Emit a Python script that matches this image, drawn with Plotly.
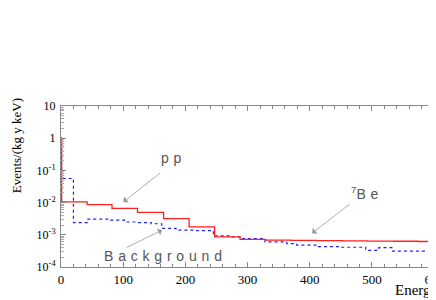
import plotly.graph_objects as go

# ---- data ----
red_edges = [0, 1, 42, 82, 123, 165, 206, 247, 288, 329, 370, 411, 452, 493, 534, 575, 616]
red_vals = [1.0, 0.0105, 0.0087, 0.0066, 0.0050, 0.0032, 0.00176, 0.00086, 0.00072,
            0.00068, 0.00067, 0.00066, 0.00065, 0.00064, 0.00063, 0.00062]

bkg_edges = [0, 1, 20, 42, 78, 102, 123, 145, 162, 185, 215, 245, 270, 292, 328, 363,
             379, 411, 450, 490, 511, 532, 616]
bkg_vals = [1.0, 0.056, 0.0024, 0.00305, 0.00284, 0.0025, 0.0024, 0.0022, 0.00158,
            0.0014, 0.00135, 0.00093, 0.00086, 0.00076, 0.0006, 0.00053, 0.00048,
            0.00043, 0.00041, 0.00033, 0.0004, 0.00031]

y_tickvals = [1e-4, 1e-3, 1e-2, 1e-1, 1, 10]
y_ticktext = ["10<sup>-4</sup>", "10<sup>-3</sup>", "10<sup>-2</sup>", "10<sup>-1</sup>", "1", "10"]
x_tickvals = [0, 100, 200, 300, 400, 500, 600]
x_ticktext = ["0", "100", "200", "300", "400", "500", "600"]


def steps(edges, vals):
    return list(edges), list(vals) + [vals[-1]]


fig = go.Figure()
bx, by = steps(bkg_edges, bkg_vals)
fig.add_trace(go.Scatter(x=bx, y=by, mode="lines", line_shape="hv",
                         line=dict(color="#2020ff", width=1.2, dash="dot"),
                         showlegend=False, hoverinfo="skip"))
rx, ry = steps(red_edges, red_vals)
fig.add_trace(go.Scatter(x=rx, y=ry, mode="lines", line_shape="hv",
                         line=dict(color="#ff2020", width=1.3),
                         showlegend=False, hoverinfo="skip"))

minor_y = [k * 10 ** e for e in range(-4, 1) for k in range(2, 10)]

serif = "Liberation Serif, Times New Roman, serif"
# the page body has an 8px default margin, so the figure is sized/placed to compensate
fig.update_layout(
    width=428, height=292,
    margin=dict(l=52.5, r=0, t=98, b=33.3, autoexpand=False),
    paper_bgcolor="white", plot_bgcolor="white",
    xaxis=dict(range=[0, 603], showgrid=False, zeroline=False, automargin=False,
               showline=True, linecolor="#888", linewidth=1, mirror="ticks",
               ticks="inside", ticklen=5, tickcolor="#888",
               tickmode="array", tickvals=x_tickvals, ticktext=x_ticktext,
               ticklabeloverflow="allow",
               tickfont=dict(family=serif, size=13, color="black"),
               minor=dict(dtick=20, ticks="inside", ticklen=3, tickcolor="#888", showgrid=False)),
    yaxis=dict(type="log", range=[-4, 1], showgrid=False, zeroline=False, automargin=False,
               showline=True, linecolor="#888", linewidth=1,
               ticks="inside", ticklen=5, tickcolor="#888",
               tickmode="array", tickvals=y_tickvals, ticktext=y_ticktext,
               tickfont=dict(family=serif, size=12, color="black"),
               ticklabelstandoff=2,
               minor=dict(tickmode="array", tickvals=minor_y, ticks="inside",
                          ticklen=3, tickcolor="#aaa", showgrid=False)),
)

lab_font = dict(family="Liberation Sans, Arial, sans-serif", size=14, color="#555")
sp = '<span style="letter-spacing:4.8px">%s</span>'

# arrows
arrows = [
    (100.4, -1.978, 161.8, -1.044),
    (162.3, -2.858, 103.0, -3.418),
    (403.8, -2.951, 466.0, -2.018),
]
for (x, y, ax, ay) in arrows:
    fig.add_annotation(x=x, y=y, ax=ax, ay=ay, xref="x", yref="y", axref="x", ayref="y",
                       text="", showarrow=True, arrowhead=1, arrowsize=1.6,
                       arrowwidth=0.8, arrowcolor="#999")

fig.add_annotation(x=181.5, y=-0.618, xref="x", yref="y", text=sp % "pp",
                   showarrow=False, font=lab_font)
fig.add_annotation(x=168.7, y=-3.667, xref="x", yref="y", text=sp % "Background",
                   showarrow=False, font=lab_font)
fig.add_annotation(x=491.8, y=-1.707, xref="x", yref="y",
                   text="<sup>7</sup>" + sp % "Be", showarrow=False, font=lab_font)

fig.add_annotation(x=0.8855, y=-0.147, xref="paper", yref="paper", xanchor="left",
                   yanchor="middle", text="Energy (keV)", showarrow=False,
                   font=dict(family=serif, size=15, color="black"))
fig.add_annotation(x=-0.1195, y=0.751, xref="paper", yref="paper", textangle=-90,
                   xanchor="center", yanchor="middle",
                   text="Events/(kg y keV)", showarrow=False,
                   font=dict(family=serif, size=13, color="black"))

fig.write_html("out.html")
